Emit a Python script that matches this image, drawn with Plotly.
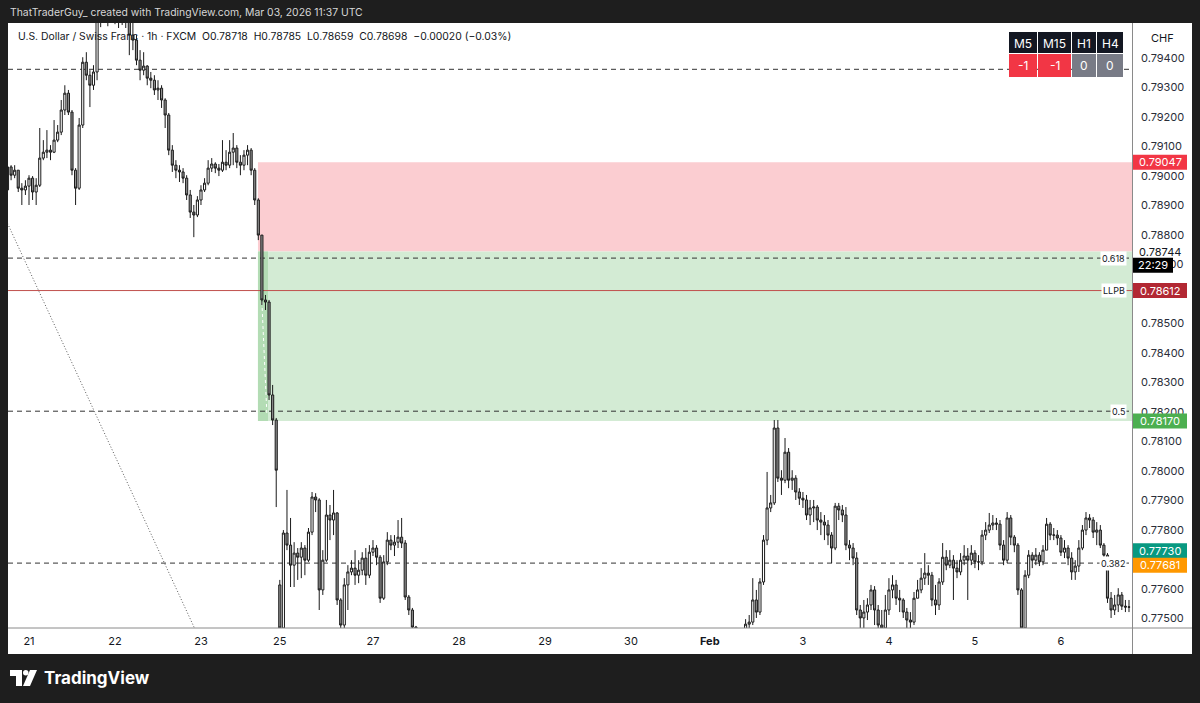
import plotly.graph_objects as go

# ---------------- data ----------------
day_labels = ["20", "21", "22", "23", "25", "26", "27", "28", "29", "30", "Feb", "2", "3", "4", "5", "6"]
bars_per_day = [6, 24, 24, 22, 2, 24, 24, 24, 24, 22, 2, 24, 24, 24, 24, 20]
hidden_day_labels = ["20", "26", "2"]

first_open = 0.78953
session_gap_open = {"25": 0.77614}

closes = [
    0.79031, 0.79003, 0.79020, 0.78959, 0.78953, 0.78966,
    0.78993, 0.78946, 0.78969, 0.79061, 0.79081, 0.79088, 0.79081, 0.79122, 0.79149, 0.79224, 0.79281, 0.79217,
    0.79020, 0.78959, 0.79173, 0.79386, 0.79342, 0.79308, 0.79353, 0.79547, 0.79580, 0.79597, 0.79563, 0.79614,
    0.79580, 0.79569, 0.79586, 0.79556, 0.79478, 0.79461, 0.79393, 0.79359, 0.79373, 0.79332, 0.79325, 0.79292,
    0.79298, 0.79258, 0.79207, 0.79088, 0.79037, 0.79020, 0.79014, 0.78993, 0.78936, 0.78878, 0.78868, 0.78919,
    0.78953, 0.78976, 0.79027, 0.79041, 0.79027, 0.79020, 0.79047, 0.79037, 0.79081, 0.79095, 0.79047,
    0.79037, 0.79071, 0.79088, 0.79020, 0.78919, 0.78800, 0.78580, 0.78573, 0.78258, 0.78173, 0.78003,
    0.77468, 0.77790,
    0.77749, 0.77681, 0.77722, 0.77708, 0.77739, 0.77698, 0.77793, 0.77912, 0.77902, 0.77597, 0.77698, 0.77851,
    0.77834, 0.77858, 0.77563, 0.77478, 0.77614, 0.77658, 0.77671, 0.77647, 0.77664, 0.77705, 0.77647, 0.77725,
    0.77739, 0.77708, 0.77569, 0.77692, 0.77766, 0.77749, 0.77759, 0.77776, 0.77756, 0.77573, 0.77529, 0.77471,
    0.77420, 0.77380, 0.77310, 0.77250, 0.77180, 0.77120, 0.77060, 0.77000, 0.76950, 0.76900, 0.76860, 0.76820,
    0.76850, 0.76790, 0.76740, 0.76700, 0.76760, 0.76810, 0.76880, 0.76920, 0.76980, 0.77040, 0.77010, 0.76950,
    0.76900, 0.76970, 0.77050, 0.77110, 0.77160, 0.77120, 0.77080, 0.77130, 0.77190, 0.77220, 0.77180, 0.77150,
    0.77200, 0.77260, 0.77300, 0.77250, 0.77190, 0.77140, 0.77100, 0.77060, 0.77120, 0.77170, 0.77230, 0.77280,
    0.77320, 0.77290, 0.77240, 0.77200, 0.77150, 0.77110, 0.77080, 0.77130, 0.77180, 0.77220, 0.77260, 0.77230,
    0.77190, 0.77150, 0.77100, 0.77050, 0.77000, 0.76960, 0.76930, 0.76980, 0.77040, 0.77090, 0.77150,
    0.77210, 0.77260, 0.77300, 0.77340, 0.77310, 0.77270, 0.77240, 0.77280, 0.77320, 0.77350, 0.77330,
    0.77300, 0.77260,
    0.77290, 0.77330, 0.77360, 0.77340, 0.77310, 0.77350, 0.77380, 0.77400, 0.77481, 0.77488, 0.77563, 0.77522,
    0.77624, 0.77766, 0.77875, 0.77892, 0.78146, 0.77976, 0.77969, 0.78064, 0.77969, 0.77976, 0.77929, 0.77908,
    0.77902, 0.77851, 0.77875, 0.77878, 0.77834, 0.77827, 0.77817, 0.77783, 0.77739, 0.77881, 0.77868, 0.77851,
    0.77749, 0.77739, 0.77705, 0.77529, 0.77502, 0.77522, 0.77546, 0.77597, 0.77529, 0.77478, 0.77468, 0.77529,
    0.77597, 0.77614, 0.77569, 0.77563, 0.77522, 0.77495, 0.77488, 0.77569, 0.77597, 0.77637, 0.77654, 0.77647,
    0.77563, 0.77546, 0.77624, 0.77708, 0.77681, 0.77698, 0.77671, 0.77658, 0.77698, 0.77712, 0.77698, 0.77722,
    0.77692, 0.77692, 0.77783, 0.77800, 0.77817, 0.77824, 0.77820, 0.77749, 0.77698, 0.77841, 0.77776, 0.77749,
    0.77597, 0.77468, 0.77647, 0.77715, 0.77698, 0.77715, 0.77692, 0.77732, 0.77820, 0.77783, 0.77783, 0.77773,
    0.77725, 0.77739, 0.77705, 0.77658, 0.77678, 0.77739, 0.77800, 0.77841, 0.77834, 0.77793,
    0.77800, 0.77749, 0.77715, 0.77569, 0.77529, 0.77546, 0.77580, 0.77542, 0.77539, 0.77539,
]

highs = [
    0.79047, 0.79037, 0.79037, 0.79020, 0.78976, 0.78986,
    0.79003, 0.79000, 0.78993, 0.79163, 0.79122, 0.79156, 0.79105, 0.79190, 0.79173, 0.79258, 0.79308, 0.79292,
    0.79224, 0.79027, 0.79197, 0.79403, 0.79420, 0.79359, 0.79376, 0.79597, 0.79647, 0.79631, 0.79614, 0.79664,
    0.79647, 0.79597, 0.79631, 0.79597, 0.79580, 0.79522, 0.79478, 0.79427, 0.79420, 0.79376, 0.79353, 0.79342,
    0.79325, 0.79308, 0.79264, 0.79214, 0.79105, 0.79054, 0.79037, 0.79027, 0.79003, 0.78953, 0.78902, 0.78932,
    0.78969, 0.78993, 0.79054, 0.79061, 0.79047, 0.79041, 0.79122, 0.79088, 0.79122, 0.79146, 0.79105,
    0.79071, 0.79088, 0.79105, 0.79095, 0.79027, 0.78925, 0.78800, 0.78597, 0.78580, 0.78292, 0.78180,
    0.77631, 0.77800,
    0.77936, 0.77841, 0.77759, 0.77739, 0.77759, 0.77749, 0.77807, 0.77929, 0.77925, 0.77908, 0.77732, 0.77902,
    0.77885, 0.77936, 0.77861, 0.77569, 0.77637, 0.77681, 0.77698, 0.77732, 0.77698, 0.77725, 0.77739, 0.77749,
    0.77766, 0.77749, 0.77715, 0.77715, 0.77793, 0.77783, 0.77783, 0.77834, 0.77841, 0.77766, 0.77580, 0.77536,
    0.77475, 0.77435, 0.77395, 0.77330, 0.77270, 0.77200, 0.77140, 0.77080, 0.77020, 0.76970, 0.76920, 0.76880,
    0.76880, 0.76870, 0.76810, 0.76760, 0.76780, 0.76830, 0.76900, 0.76950, 0.77000, 0.77070, 0.77060, 0.77030,
    0.76970, 0.76990, 0.77070, 0.77140, 0.77190, 0.77180, 0.77140, 0.77150, 0.77210, 0.77250, 0.77240, 0.77200,
    0.77220, 0.77280, 0.77330, 0.77320, 0.77260, 0.77200, 0.77150, 0.77110, 0.77140, 0.77190, 0.77250, 0.77300,
    0.77350, 0.77340, 0.77300, 0.77250, 0.77210, 0.77160, 0.77120, 0.77150, 0.77200, 0.77240, 0.77280, 0.77270,
    0.77240, 0.77200, 0.77160, 0.77110, 0.77060, 0.77010, 0.76970, 0.77000, 0.77060, 0.77110, 0.77170,
    0.77230, 0.77280, 0.77320, 0.77370, 0.77360, 0.77320, 0.77280, 0.77300, 0.77340, 0.77380, 0.77370,
    0.77340, 0.77310,
    0.77310, 0.77350, 0.77390, 0.77380, 0.77350, 0.77370, 0.77400, 0.77430, 0.77498, 0.77512, 0.77637, 0.77597,
    0.77637, 0.77783, 0.77997, 0.77919, 0.78173, 0.78173, 0.78003, 0.78112, 0.78078, 0.78003, 0.77986, 0.77942,
    0.77929, 0.77919, 0.77902, 0.77902, 0.77885, 0.77861, 0.77851, 0.77834, 0.77793, 0.77892, 0.77892, 0.77885,
    0.77878, 0.77766, 0.77756, 0.77725, 0.77546, 0.77563, 0.77569, 0.77614, 0.77610, 0.77546, 0.77529, 0.77580,
    0.77637, 0.77647, 0.77631, 0.77597, 0.77569, 0.77536, 0.77522, 0.77590, 0.77631, 0.77671, 0.77722, 0.77681,
    0.77658, 0.77614, 0.77637, 0.77756, 0.77732, 0.77732, 0.77715, 0.77698, 0.77722, 0.77749, 0.77739, 0.77749,
    0.77732, 0.77715, 0.77800, 0.77827, 0.77858, 0.77851, 0.77841, 0.77834, 0.77766, 0.77861, 0.77851, 0.77783,
    0.77756, 0.77603, 0.77664, 0.77732, 0.77725, 0.77739, 0.77725, 0.77749, 0.77841, 0.77827, 0.77807, 0.77800,
    0.77783, 0.77766, 0.77749, 0.77725, 0.77698, 0.77766, 0.77817, 0.77861, 0.77854, 0.77844,
    0.77827, 0.77817, 0.77756, 0.77722, 0.77590, 0.77580, 0.77603, 0.77590, 0.77563, 0.77563,
]

lows = [
    0.78919, 0.78986, 0.78993, 0.78946, 0.78902, 0.78936,
    0.78902, 0.78919, 0.78902, 0.78963, 0.79054, 0.79061, 0.79054, 0.79078, 0.79115, 0.79139, 0.79207, 0.79207,
    0.79003, 0.78902, 0.78953, 0.79163, 0.79325, 0.79234, 0.79292, 0.79325, 0.79505, 0.79529, 0.79508, 0.79547,
    0.79515, 0.79502, 0.79512, 0.79502, 0.79410, 0.79427, 0.79376, 0.79325, 0.79342, 0.79308, 0.79298, 0.79275,
    0.79258, 0.79231, 0.79163, 0.79071, 0.79014, 0.78993, 0.78980, 0.78976, 0.78919, 0.78858, 0.78793, 0.78861,
    0.78902, 0.78946, 0.78969, 0.79014, 0.79010, 0.79000, 0.79014, 0.79020, 0.79027, 0.79037, 0.79027,
    0.79003, 0.79020, 0.79037, 0.79003, 0.78902, 0.78783, 0.78563, 0.78546, 0.78241, 0.78156, 0.77878,
    0.77427, 0.77454,
    0.77732, 0.77607, 0.77607, 0.77631, 0.77637, 0.77647, 0.77692, 0.77783, 0.77861, 0.77529, 0.77580, 0.77692,
    0.77766, 0.77783, 0.77546, 0.77427, 0.77454, 0.77529, 0.77647, 0.77614, 0.77620, 0.77647, 0.77614, 0.77637,
    0.77712, 0.77681, 0.77553, 0.77563, 0.77681, 0.77732, 0.77712, 0.77739, 0.77739, 0.77563, 0.77512, 0.77444,
    0.77390, 0.77350, 0.77290, 0.77220, 0.77150, 0.77090, 0.77030, 0.76970, 0.76920, 0.76870, 0.76830, 0.76790,
    0.76800, 0.76760, 0.76710, 0.76660, 0.76690, 0.76740, 0.76800, 0.76860, 0.76910, 0.76970, 0.76990, 0.76930,
    0.76870, 0.76890, 0.76950, 0.77040, 0.77100, 0.77100, 0.77050, 0.77070, 0.77120, 0.77180, 0.77160, 0.77130,
    0.77140, 0.77190, 0.77250, 0.77230, 0.77170, 0.77120, 0.77080, 0.77040, 0.77050, 0.77110, 0.77160, 0.77220,
    0.77270, 0.77270, 0.77220, 0.77180, 0.77130, 0.77090, 0.77060, 0.77070, 0.77120, 0.77170, 0.77210, 0.77210,
    0.77170, 0.77130, 0.77080, 0.77030, 0.76980, 0.76940, 0.76900, 0.76920, 0.76970, 0.77030, 0.77080,
    0.77140, 0.77200, 0.77250, 0.77290, 0.77290, 0.77250, 0.77220, 0.77230, 0.77270, 0.77310, 0.77310,
    0.77280, 0.77240,
    0.77240, 0.77280, 0.77320, 0.77320, 0.77290, 0.77300, 0.77340, 0.77360, 0.77380, 0.77427, 0.77478, 0.77502,
    0.77512, 0.77614, 0.77749, 0.77861, 0.77885, 0.77963, 0.77919, 0.77959, 0.77942, 0.77936, 0.77902, 0.77885,
    0.77875, 0.77834, 0.77817, 0.77827, 0.77800, 0.77783, 0.77766, 0.77749, 0.77688, 0.77732, 0.77834, 0.77827,
    0.77732, 0.77698, 0.77681, 0.77512, 0.77427, 0.77444, 0.77495, 0.77529, 0.77478, 0.77427, 0.77410, 0.77454,
    0.77512, 0.77569, 0.77546, 0.77522, 0.77502, 0.77461, 0.77454, 0.77478, 0.77569, 0.77586, 0.77614, 0.77614,
    0.77542, 0.77512, 0.77529, 0.77614, 0.77664, 0.77671, 0.77563, 0.77637, 0.77647, 0.77681, 0.77563, 0.77681,
    0.77671, 0.77664, 0.77681, 0.77766, 0.77790, 0.77800, 0.77800, 0.77732, 0.77681, 0.77688, 0.77749, 0.77725,
    0.77580, 0.77427, 0.77454, 0.77637, 0.77671, 0.77681, 0.77678, 0.77681, 0.77732, 0.77766, 0.77766, 0.77749,
    0.77712, 0.77705, 0.77681, 0.77631, 0.77631, 0.77658, 0.77732, 0.77783, 0.77807, 0.77773,
    0.77749, 0.77739, 0.77698, 0.77553, 0.77502, 0.77512, 0.77522, 0.77529, 0.77522, 0.77522,
]

# price scale
y_range = [0.77468, 0.79519]
x_range = [0.14, 313.84]
price_ticks = [0.775, 0.776, 0.777, 0.778, 0.779, 0.780, 0.781, 0.782, 0.783, 0.784,
               0.785, 0.786, 0.787, 0.788, 0.789, 0.790, 0.791, 0.792, 0.793, 0.794]
covered_ticks = [0.786, 0.777]  # fully hidden behind price badges in the reference

# drawings
dashed_levels = [("", 0.79362), ("0.618", 0.78722), ("0.5", 0.78203), ("0.382", 0.77688)]
llpb_level = 0.78612
stop_price, entry_price, target_price = 0.79047, 0.78744, 0.78170
position_start_bar = 69.9
entry_band_end_bar = 72.7
trend_bars = [0, 54]
trend_prices = [0.7884, 0.7742]
path_bars = [71.0, 72.4]
path_prices = [0.78573, 0.78190]

badges = [  # text, price, background, text colour, width px
    ("0.79047", 0.79047, "#f23645", "#ffffff", 54),
    ("0.78744", 0.78744, "#ffffff", "#131722", 54),
    ("22:29", 0.78698, "#000000", "#ffffff", 40),
    ("0.78612", 0.78612, "#b22833", "#ffffff", 54),
    ("0.78170", 0.78170, "#4caf50", "#ffffff", 54),
    ("0.77730", 0.77730, "#089981", "#ffffff", 54),
    ("0.77681", 0.77681, "#ff9800", "#ffffff", 54),
]

tf_labels = ["M5", "M15", "H1", "H4"]
tf_values = ["-1", "-1", "0", "0"]

header_text = "ThatTraderGuy_ created with TradingView.com, Mar 03, 2026 11:37 UTC"
legend_text = ("U.S. Dollar / Swiss Franc · 1h · FXCM\u00a0\u00a0O0.78718\u00a0\u00a0H0.78785\u00a0\u00a0"
               "L0.78659\u00a0\u00a0C0.78698\u00a0\u00a0−0.00020 (−0.03%)")

# ---------------- build ----------------
FONT = "Inter, Roboto, Arial, sans-serif"
W, H = 1200, 703
PL, PR, PT, PB = 8, 1132, 23, 628  # plot area in pixels


def xp(px):
    return (px - PL) / (PR - PL)


def yp(py):
    return (PB - py) / (PB - PT)


def pp(price):
    return (price - y_range[0]) / (y_range[1] - y_range[0])


starts = []
s = 0
for nb in bars_per_day:
    starts.append(s)
    s += nb
n_bars = s
assert len(closes) == n_bars and len(highs) == n_bars and len(lows) == n_bars

opens = [first_open] + closes[:-1]
for lab, o in session_gap_open.items():
    opens[starts[day_labels.index(lab)]] = o

xs = list(range(n_bars))

fig = go.Figure()
fig.add_trace(go.Candlestick(
    x=xs, open=opens, high=highs, low=lows, close=closes,
    increasing=dict(line=dict(color="#1a1a1a", width=1), fillcolor="#ffffff"),
    decreasing=dict(line=dict(color="#1a1a1a", width=1), fillcolor="#8f8f8f"),
    whiskerwidth=0, showlegend=False, hoverinfo="skip",
))

shapes = []
# white panel
shapes.append(dict(type="rect", xref="paper", yref="paper", x0=xp(8), x1=xp(1192), y0=yp(654), y1=yp(23),
                   fillcolor="#ffffff", line=dict(width=0), layer="below"))
# position tool
shapes.append(dict(type="rect", xref="x", yref="y", x0=position_start_bar, x1=x_range[1],
                   y0=entry_price, y1=stop_price, fillcolor="#fbcdd1", line=dict(width=0), layer="below"))
shapes.append(dict(type="rect", xref="x", yref="y", x0=position_start_bar, x1=x_range[1],
                   y0=target_price, y1=entry_price, fillcolor="#d3ebd4", line=dict(width=0), layer="below"))
shapes.append(dict(type="rect", xref="x", yref="y", x0=position_start_bar, x1=entry_band_end_bar,
                   y0=target_price, y1=entry_price, fillcolor="#b3dcb4", line=dict(width=0), layer="below"))
shapes.append(dict(type="line", xref="x", yref="y", x0=path_bars[0], x1=path_bars[1],
                   y0=path_prices[0], y1=path_prices[1], line=dict(color="#ffffff", width=1, dash="dot"),
                   layer="below"))
# horizontal levels
for lab, lvl in dashed_levels:
    shapes.append(dict(type="line", xref="x", yref="y", x0=x_range[0], x1=x_range[1], y0=lvl, y1=lvl,
                       line=dict(color="#333333", width=1, dash="5px,4px"), layer="below"))
shapes.append(dict(type="line", xref="x", yref="y", x0=x_range[0], x1=x_range[1], y0=llpb_level, y1=llpb_level,
                   line=dict(color="#c0504d", width=1), layer="below"))
# trend line
shapes.append(dict(type="line", xref="x", yref="y", x0=trend_bars[0], x1=trend_bars[1],
                   y0=trend_prices[0], y1=trend_prices[1], line=dict(color="#5a5a5a", width=1, dash="1px,2px"),
                   layer="below"))
# axis border lines
shapes.append(dict(type="line", xref="paper", yref="paper", x0=xp(8), x1=xp(1192), y0=yp(628), y1=yp(628),
                   line=dict(color="#8a8a8a", width=1)))
shapes.append(dict(type="line", xref="paper", yref="paper", x0=xp(1132.5), x1=xp(1132.5), y0=yp(23), y1=yp(654),
                   line=dict(color="#8a8a8a", width=1)))

annotations = []
# axis badges
for txt, price, bg, fg, wpx in badges:
    yc = pp(price)
    hh = 7.5 / (PB - PT)
    shapes.append(dict(type="rect", xref="paper", yref="paper", x0=xp(1133), x1=xp(1133 + wpx),
                       y0=yc - hh, y1=yc + hh, fillcolor=bg, line=dict(width=0)))
    annotations.append(dict(xref="paper", yref="paper", x=xp(1133 + wpx / 2), y=yc, text=txt, showarrow=False,
                            xanchor="center", yanchor="middle", font=dict(family=FONT, size=11, color=fg)))
# level labels
for lab, lvl in dashed_levels:
    if lab:
        annotations.append(dict(xref="paper", yref="y", x=xp(1127), y=lvl, text=lab, showarrow=False,
                                xanchor="right", yanchor="middle", bgcolor="#ffffff", borderpad=1,
                                font=dict(family=FONT, size=9, color="#131722")))
annotations.append(dict(xref="paper", yref="y", x=xp(1127), y=llpb_level, text="LLPB", showarrow=False,
                        xanchor="right", yanchor="middle", bgcolor="#ffffff", borderpad=1,
                        font=dict(family=FONT, size=9, color="#131722")))

# timeframe table
col_px = [(1009, 1037), (1038, 1071), (1072, 1096), (1097, 1123)]
for (x0, x1), lab, val in zip(col_px, tf_labels, tf_values):
    shapes.append(dict(type="rect", xref="paper", yref="paper", x0=xp(x0), x1=xp(x1), y0=yp(53), y1=yp(32),
                       fillcolor="#131722", line=dict(width=0)))
    vcol = "#f23645" if val.startswith("-") else "#787b86"
    shapes.append(dict(type="rect", xref="paper", yref="paper", x0=xp(x0), x1=xp(x1), y0=yp(77), y1=yp(54),
                       fillcolor=vcol, line=dict(width=0)))
    annotations.append(dict(xref="paper", yref="paper", x=xp((x0 + x1) / 2), y=yp(43), text=lab, showarrow=False,
                            xanchor="center", yanchor="middle", font=dict(family=FONT, size=12, color="#ffffff")))
    annotations.append(dict(xref="paper", yref="paper", x=xp((x0 + x1) / 2), y=yp(66), text=val, showarrow=False,
                            xanchor="center", yanchor="middle", font=dict(family=FONT, size=12, color="#ffffff")))

# texts
annotations.append(dict(xref="paper", yref="paper", x=xp(8), y=yp(12), text=header_text, showarrow=False,
                        xanchor="left", yanchor="middle", font=dict(family=FONT, size=10.4, color="#d6d6d6")))
annotations.append(dict(xref="paper", yref="paper", x=xp(16), y=yp(37), text=legend_text, showarrow=False,
                        xanchor="left", yanchor="middle", font=dict(family=FONT, size=10.4, color="#131722")))
annotations.append(dict(xref="paper", yref="paper", x=xp(1162), y=yp(38), text="CHF", showarrow=False,
                        xanchor="center", yanchor="middle", font=dict(family=FONT, size=11, color="#131722")))
annotations.append(dict(xref="paper", yref="paper", x=xp(42), y=yp(678), text="<b>TradingView</b>",
                        showarrow=False, xanchor="left", yanchor="middle",
                        font=dict(family=FONT, size=17, color="#ffffff")))


# TradingView logo mark
def ppath(points):
    return "M " + " L ".join(f"{xp(a):.5f},{yp(b):.5f}" for a, b in points) + " Z"


shapes.append(dict(type="path", xref="paper", yref="paper",
                   path=ppath([(10, 670), (22, 670), (22, 686), (16, 686), (16, 676), (10, 676)]),
                   fillcolor="#ffffff", line=dict(width=0)))
shapes.append(dict(type="circle", xref="paper", yref="paper", x0=xp(23), x1=xp(28.5), y0=yp(675.5), y1=yp(670),
                   fillcolor="#ffffff", line=dict(width=0)))
shapes.append(dict(type="path", xref="paper", yref="paper",
                   path=ppath([(30, 670), (37, 670), (30, 686), (23, 686)]),
                   fillcolor="#ffffff", line=dict(width=0)))

tickvals = [starts[k] for k, lab in enumerate(day_labels) if lab not in hidden_day_labels]
ticktext = [("<b>Feb</b>" if lab == "Feb" else lab) for lab in day_labels if lab not in hidden_day_labels]

fig.update_layout(
    width=W, height=H, autosize=False,
    margin=dict(l=PL, r=W - PR, t=PT, b=H - PB, pad=0),
    paper_bgcolor="#1e1e1e", plot_bgcolor="#ffffff",
    showlegend=False, shapes=shapes, annotations=annotations,
    font=dict(family=FONT), boxgap=0.15,
    xaxis=dict(range=x_range, tickmode="array", tickvals=tickvals, ticktext=ticktext,
               showgrid=False, zeroline=False, showline=False, ticks="",
               tickfont=dict(family=FONT, size=11, color="#131722"), ticklabelstandoff=5,
               rangeslider=dict(visible=False), fixedrange=True),
    yaxis=dict(range=y_range, side="right", tickmode="array", tickvals=price_ticks,
               ticktext=["" if v in covered_ticks else f"{v:.5f}" for v in price_ticks],
               showgrid=False, zeroline=False, showline=False, ticks="",
               tickfont=dict(family=FONT, size=11, color="#2a2e39"), ticklabelstandoff=8, fixedrange=True),
)

fig.write_html(
    "out.html",
    config={"displayModeBar": False},
    post_script=("document.documentElement.style.margin='0';document.body.style.margin='0';"
                 "document.body.style.padding='0';document.body.style.background='#1e1e1e';"
                 "document.body.style.overflow='hidden';"),
)
